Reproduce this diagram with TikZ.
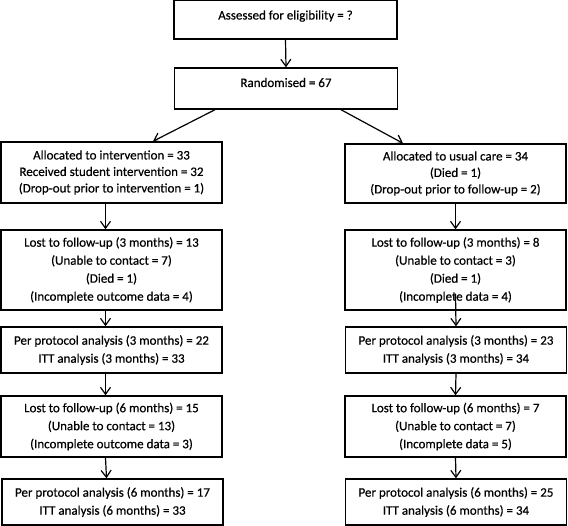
\documentclass[tikz,border=0pt]{standalone}
\usepackage{fontspec}
\setmainfont{Carlito}[FakeBold=0.5]
\usepackage{tikz}
\usetikzlibrary{arrows.meta}

\begin{document}
\begin{tikzpicture}[x=1pt,y=-1pt,
  box/.style={draw,line width=1.4pt,inner sep=0pt,align=center,
    font=\fontsize{13}{18}\selectfont},
  topbox/.style={box,minimum width=223pt,text height=19.5pt,text depth=19.5pt},
  colbox/.style={box,minimum width=221pt},
  arr/.style={line width=1.2pt,-{Straight Barb[length=7pt,width=10pt]}}]

\useasboundingbox (0,0) rectangle (568,526);

% top of the flow
\node (elig) [topbox] at (285.5,19.5) {Assessed for eligibility = ?};
\node (rand) [topbox,text height=19pt,text depth=22pt] at (286,88.5) {Randomised = 67};

% intervention arm
\node (L1) [colbox,minimum height=61pt,font=\fontsize{13}{16.5}\selectfont] at (111.5,172.5)
  {Allocated to intervention = 33\\Received student intervention = 32\\(Drop-out prior to intervention = 1)};
\node (L2) [colbox,minimum height=80pt] at (111.5,270)
  {Lost to follow-up (3 months) = 13\\(Unable to contact = 7)\\(Died = 1)\\(Incomplete outcome data = 4)};
\node (L3) [colbox,minimum height=46pt] at (111.5,350)
  {Per protocol analysis (3 months) = 22\\ITT analysis (3 months) = 33};
\node (L4) [colbox,minimum height=61pt] at (111.5,426.5)
  {Lost to follow-up (6 months) = 15\\(Unable to contact = 13)\\(Incomplete outcome data = 3)};
\node (L5) [colbox,minimum height=46pt] at (112.5,502)
  {Per protocol analysis (6 months) = 17\\ITT analysis (6 months) = 33};

% usual care arm
\node (R1) [colbox,minimum height=59pt,font=\fontsize{13}{16.5}\selectfont] at (455.5,173.5)
  {Allocated to usual care = 34\\(Died = 1)\\(Drop-out prior to follow-up = 2)};
\node (R2) [colbox,minimum height=80pt] at (455.5,270)
  {Lost to follow-up (3 months) = 8\\(Unable to contact = 3)\\(Died = 1)\\(Incomplete data = 4)};
\node (R3) [colbox,minimum height=46pt] at (456,350)
  {Per protocol analysis (3 months) = 23\\ITT analysis (3 months) = 34};
\node (R4) [colbox,minimum height=61pt] at (455.5,426.5)
  {Lost to follow-up (6 months) = 7\\(Unable to contact = 7)\\(Incomplete data = 5)};
\node (R5) [colbox,minimum height=46pt] at (456,502)
  {Per protocol analysis (6 months) = 25\\ITT analysis (6 months) = 34};

\draw [arr] (elig.south) -- (rand.north);
\draw [arr] ([xshift=-71pt]rand.south) -- ([xshift=41.5pt]L1.north);
\draw [arr] ([xshift=55pt]rand.south) -- ([xshift=-52.5pt]R1.north);

\foreach \a/\b in {L1/L2,L2/L3,L3/L4,L4/L5}
  \draw [arr] ([xshift=-6pt]\a.south) -- ([xshift=-6pt]\b.north);

\draw [arr] (R1.south) -- (R2.north);
\draw [arr] ([yshift=17pt]R2.south) -- (R3.north);
\draw [arr] (R3.south) -- (R4.north);
\draw [arr] (R4.south) -- (R5.north);

\end{tikzpicture}
\end{document}
